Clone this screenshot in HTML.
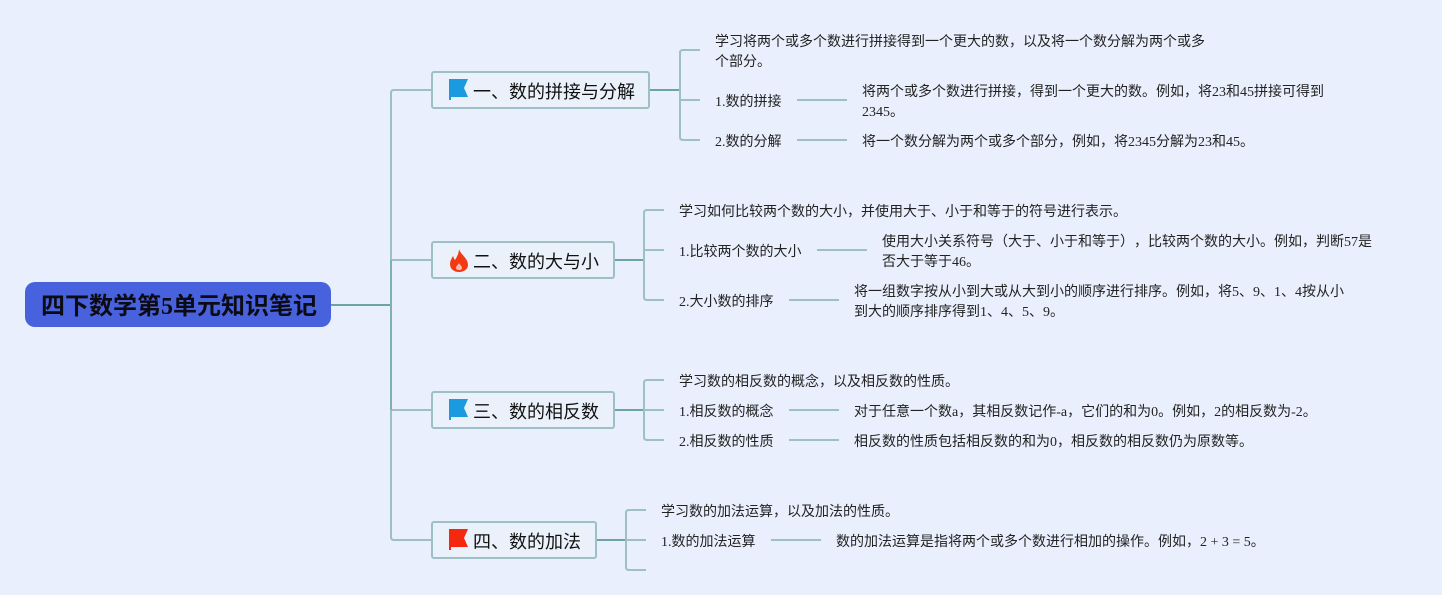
<!DOCTYPE html>
<html lang="zh"><head><meta charset="utf-8"><style>
html,body{margin:0;padding:0}
body{width:1442px;height:595px;background:#e9effc;overflow:hidden;position:relative;font-family:"Liberation Serif","WenQuanYi Zen Hei","Noto Sans CJK SC",serif;color:#222;text-spacing-trim:space-all}
.t{position:absolute;font-size:14px;line-height:21px;white-space:nowrap;color:#222}
.n{position:absolute;box-sizing:border-box;border:2px solid #9dbfc6;border-radius:3px;background:#eaf1fb;height:38px}
.h{position:absolute;font-size:18px;line-height:24px;white-space:nowrap;color:#111}
svg{position:absolute;left:0;top:0}
</style></head><body>
<svg width="1442" height="595" fill="none" stroke="#9dbfc6" stroke-width="2">
<path d="M331 305H391" stroke="#6da3a3"/>
<path d="M391 305V93Q391 90 394 90H431M391 305V537Q391 540 394 540H431M391 260H431M391 410H431"/>
<path d="M391 260V410" stroke="#7fb0b2"/>
<path d="M650 90H680" stroke="#6da3a3"/>
<path d="M700 50H683Q680 50 680 53V137Q680 140 683 140H700M680 100H700"/>
<path d="M614 260H644" stroke="#6da3a3"/>
<path d="M664 210H647Q644 210 644 213V297Q644 300 647 300H664M644 250H664"/>
<path d="M614 410H644" stroke="#6da3a3"/>
<path d="M664 380H647Q644 380 644 383V437Q644 440 647 440H664M644 410H664"/>
<path d="M596 540H626" stroke="#6da3a3"/>
<path d="M646 510H629Q626 510 626 513V567Q626 570 629 570H646M626 540H646"/>
<path d="M797 100H847M797 140H847M817 250H867M789 300H839M789 410H839M789 440H839M771 540H821"/>
</svg>
<div style="position:absolute;left:25px;top:282px;width:306px;height:45px;background:#4862de;border-radius:10px"></div>
<div style="position:absolute;left:41px;top:291px;font-size:24px;line-height:32px;font-weight:bold;color:#0b0b14;white-space:nowrap">四下数学第5单元知识笔记</div>

<div class="n" style="left:431px;top:71px;width:219px"></div>
<div class="n" style="left:431px;top:241px;width:184px"></div>
<div class="n" style="left:431px;top:391px;width:184px"></div>
<div class="n" style="left:431px;top:521px;width:166px"></div>

<svg width="1442" height="595">
<path d="M449 79H468L464 88L468 97H451V100H449Z" fill="#1b9ae0"/>
<path d="M449 399H468L464 408L468 417H451V420H449Z" fill="#1b9ae0"/>
<path d="M449 529H468L464 538L468 547H451V550H449Z" fill="#f5280f"/>
<path d="M459 249C460 254 468 258 468 265C468 269 464 272 459 272C454 272 450 269 450 264C450 261 452 258 453 256C454 258 454 259 455 260C457 257 459 253 459 249Z" fill="#f23a12"/>
<path d="M459 263C460 265 462 266 462 268C462 270 460 270 459 270C457 270 456 269 456 268C456 266 458 265 459 263Z" fill="#f9b9a8"/>
</svg>
<div class="h" style="left:473px;top:80px">一、数的拼接与分解</div>
<div class="h" style="left:473px;top:250px">二、数的大与小</div>
<div class="h" style="left:473px;top:400px">三、数的相反数</div>
<div class="h" style="left:473px;top:530px">四、数的加法</div>

<div class="t" style="left:715px;top:33px;line-height:20px">学习将两个或多个数进行拼接得到一个更大的数，以及将一个数分解为两个或多<br>个部分。</div>
<div class="t" style="left:715px;top:92px">1.数的拼接</div>
<div class="t" style="left:862px;top:83px;line-height:20px">将两个或多个数进行拼接，得到一个更大的数。例如，将23和45拼接可得到<br>2345。</div>
<div class="t" style="left:715px;top:132px">2.数的分解</div>
<div class="t" style="left:862px;top:132px">将一个数分解为两个或多个部分，例如，将2345分解为23和45。</div>

<div class="t" style="left:679px;top:202px">学习如何比较两个数的大小，并使用大于、小于和等于的符号进行表示。</div>
<div class="t" style="left:679px;top:242px">1.比较两个数的大小</div>
<div class="t" style="left:882px;top:233px;line-height:20px">使用大小关系符号（大于、小于和等于），比较两个数的大小。例如，判断57是<br>否大于等于46。</div>
<div class="t" style="left:679px;top:292px">2.大小数的排序</div>
<div class="t" style="left:854px;top:283px;line-height:20px">将一组数字按从小到大或从大到小的顺序进行排序。例如，将5、9、1、4按从小<br>到大的顺序排序得到1、4、5、9。</div>

<div class="t" style="left:679px;top:372px">学习数的相反数的概念，以及相反数的性质。</div>
<div class="t" style="left:679px;top:402px">1.相反数的概念</div>
<div class="t" style="left:854px;top:402px">对于任意一个数a，其相反数记作-a，它们的和为0。例如，2的相反数为-2。</div>
<div class="t" style="left:679px;top:432px">2.相反数的性质</div>
<div class="t" style="left:854px;top:432px">相反数的性质包括相反数的和为0，相反数的相反数仍为原数等。</div>

<div class="t" style="left:661px;top:502px">学习数的加法运算，以及加法的性质。</div>
<div class="t" style="left:661px;top:532px">1.数的加法运算</div>
<div class="t" style="left:836px;top:532px">数的加法运算是指将两个或多个数进行相加的操作。例如，2 + 3 = 5。</div>
</body></html>
